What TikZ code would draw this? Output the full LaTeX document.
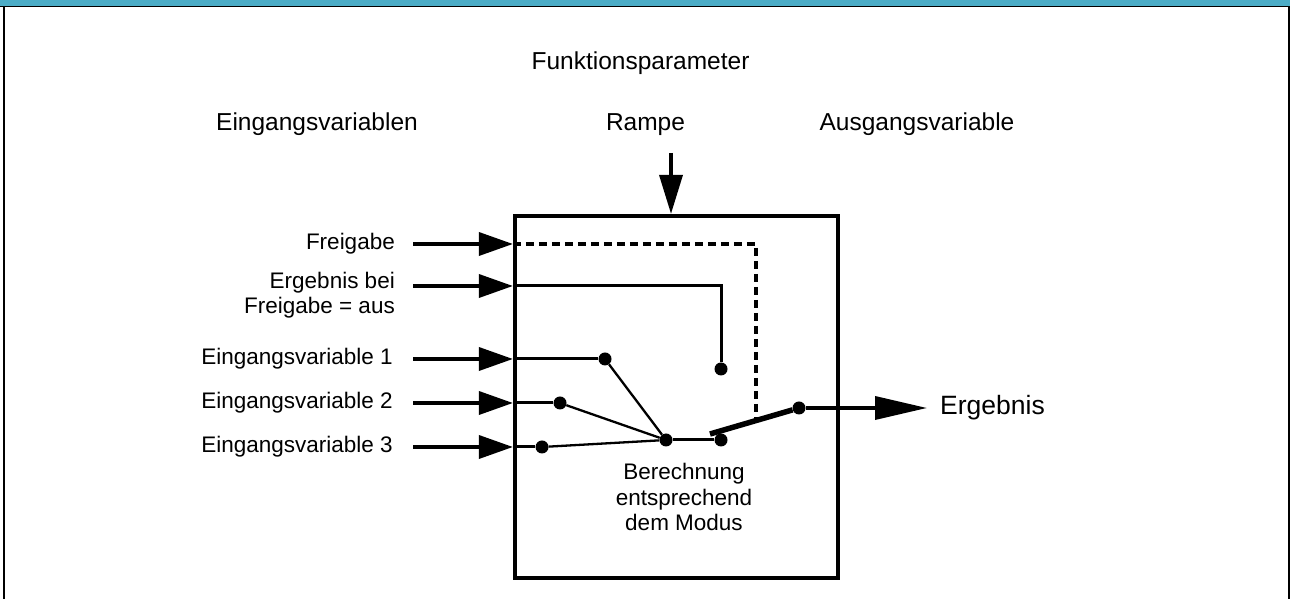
\documentclass[tikz,border=0pt]{standalone}
\usepackage{fontspec}
\setmainfont{Liberation Sans}
\usetikzlibrary{positioning, arrows.meta}
\definecolor{barblue}{RGB}{75,172,198}

\begin{document}
\begin{tikzpicture}[x=1pt, y=1pt]
	% Define styles
	\tikzset{
		lbl/.style={inner sep=0pt, font=\fontsize{22.5}{25.5}\selectfont},
		head/.style={inner sep=0pt, font=\fontsize{24.5}{28}\selectfont},
		line/.style={draw, line width=3.6pt},
		inarrow/.style={line, -{Triangle[length=34pt, width=23pt]}},
		wire/.style={draw, line width=2.3pt},
		dot/.style={circle, fill, inner sep=0pt, minimum size=13pt}
	}
	\useasboundingbox (0,0) rectangle (1290,599);
	% Frame
	\fill[barblue] (0,592.5) rectangle (1290,599);
	\draw[line width=1.8pt] (0,592.5) -- (1290,592.5);
	\draw[line width=2pt] (4,0) -- (4,592.5);
	\draw[line width=2pt] (1289,0) -- (1289,592.5);
	
	% Nodes
	\node[draw, line width=4.2pt, minimum width=323pt, minimum height=362pt] (box) at (676.5,202) {};
	
	\node[head, anchor=base] (funk) at (640.5,529) {Funktionsparameter};
	\node[head, anchor=base] (eingv) at (317,468) {Eingangsvariablen};
	\node[head, anchor=base] (rampe) at (645.5,468) {Rampe};
	\node[head, anchor=base] (ausgv) at (917,468) {Ausgangsvariable};
	
	\coordinate (rtop) at (671,446);
	\coordinate (s1) at (413,355);
	\coordinate (s2) at (413,313);
	\coordinate (s3) at (413,240);
	\coordinate (s4) at (413,196);
	\coordinate (s5) at (413,152);
	
	\node[lbl, left=18pt of s1] (freig) {Freigabe};
	\node[lbl, align=right, anchor=north east] (ergbei) at (395,327) {Ergebnis bei\\Freigabe = aus};
	\node[lbl, left=20pt of s3] (ein1) {Eingangsvariable 1};
	\node[lbl, left=20pt of s4] (ein2) {Eingangsvariable 2};
	\node[lbl, left=20pt of s5] (ein3) {Eingangsvariable 3};
	
	\node[dot] (d1) at (605,240) {};
	\node[dot] (d2) at (560,196) {};
	\node[dot] (d3) at (542,152) {};
	\node[dot] (dm) at (666,159) {};
	\node[dot] (dc) at (721,159) {};
	\node[dot] (de) at (721,230) {};
	\node[dot] (dout) at (799,191) {};
	\coordinate (sw) at (710,165);
	\coordinate (dash) at (756,182);
	\coordinate (tip) at (927,191);
	
	\node[right=13pt of tip, inner sep=0pt, font=\fontsize{26.5}{30}\selectfont] (erg) {Ergebnis};
	\node[lbl, align=center, anchor=north] (calc) at (684,136) {Berechnung\\entsprechend\\dem Modus};
	
	% Arrows
	\draw[line, -{Triangle[length=39pt, width=23pt]}] (rtop) -- (rtop |- box.north);
	\draw[inarrow] (s1) -- (s1 -| box.west);
	\draw[inarrow] (s2) -- (s2 -| box.west);
	\draw[inarrow] (s3) -- (s3 -| box.west);
	\draw[inarrow] (s4) -- (s4 -| box.west);
	\draw[inarrow] (s5) -- (s5 -| box.west);
	
	\draw[line, line width=3.4pt, dash pattern=on 8pt off 5pt] (s1 -| box.west) -| (dash);
	\draw[line, line width=3pt] (s2 -| box.west) -| (de);
	\draw[line, line width=3pt] (s3 -| box.west) -- (d1);
	\draw[line, line width=3pt] (s4 -| box.west) -- (d2);
	\draw[line, line width=3pt] (s5 -| box.west) -- (d3);
	\draw[wire] (d1) -- (dm);
	\draw[wire] (d2) -- (dm);
	\draw[wire] (d3) -- (dm);
	\draw[line, line width=3pt] (dm) -- (dc);
	\draw[line width=5.5pt] (sw) -- (dout);
	\draw[line, -{Triangle[length=52pt, width=23pt]}] (dout) -- (tip);
\end{tikzpicture}
\end{document}
